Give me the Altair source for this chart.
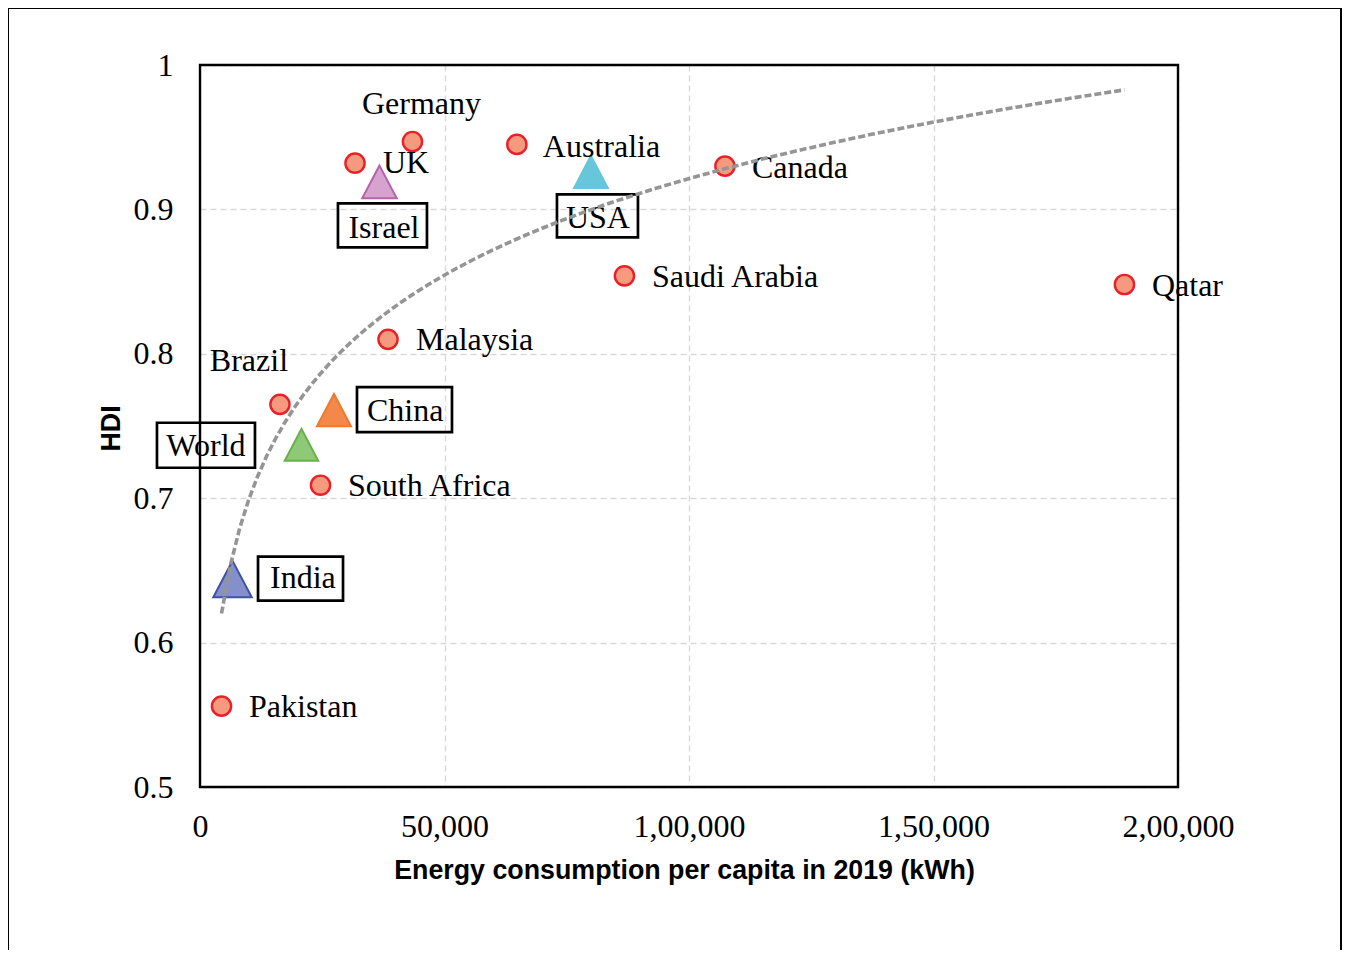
import altair as alt
import pandas as pd

# ---- data ----
countries = ["Pakistan", "India", "World", "Brazil", "South Africa", "China", "Malaysia",
             "UK", "Israel", "Germany", "Australia", "USA", "Saudi Arabia", "Canada", "Qatar"]
energy = [4400, 6650, 20750, 16350, 24650, 27400, 38450,
          31700, 36700, 43450, 64800, 79950, 86800, 107350, 189050]
hdi = [0.556, 0.644, 0.737, 0.765, 0.709, 0.761, 0.810,
       0.932, 0.919, 0.947, 0.945, 0.926, 0.854, 0.930, 0.848]
triangle_countries = ["India", "World", "China", "Israel", "USA"]

x_tick_values = [0, 50000, 100000, 150000, 200000]
x_tick_labels = ["0", "50,000", "1,00,000", "1,50,000", "2,00,000"]
y_tick_values = [0.5, 0.6, 0.7, 0.8, 0.9, 1.0]
y_tick_labels = ["0.5", "0.6", "0.7", "0.8", "0.9", "1"]

df = pd.DataFrame({"country": countries, "energy": energy, "hdi": hdi})

# ---- styles ----
SERIF = "Liberation Serif"
SANS = "Liberation Sans"
LABEL_SIZE = 32
TRI = "M0,-0.95L-1,0.95L1,0.95Z"

tri_style = {  # fill, stroke, size
    "India": ("#8590CB", "#3F52A8", 1480),
    "World": ("#8DC977", "#6AB04A", 1120),
    "China": ("#F4884A", "#EE7A30", 1160),
    "Israel": ("#D6A2CF", "#B664A8", 1190),
    "USA": ("#67C7DA", "#67C7DA", 1140),
}

label_pos = {  # align, dx, dy
    "Germany": ("center", 9, -38),
    "UK": ("left", 28, 0),
    "Israel": ("center", 4.5, 46),
    "Australia": ("left", 26, 3),
    "USA": ("center", 7, 46),
    "Canada": ("left", 27, 2),
    "Saudi Arabia": ("left", 27.5, 1),
    "Qatar": ("left", 27.5, 2),
    "Malaysia": ("left", 28, 1),
    "Brazil": ("center", -31, -43),
    "China": ("left", 33, 1),
    "World": ("center", -95.5, 1),
    "South Africa": ("left", 27.5, 1),
    "India": ("left", 37.5, -1),
    "Pakistan": ("left", 27.5, 1),
}

box_pos = {  # x offset, x2 offset, y offset, y2 offset
    "Israel": (-41.5, 47.5, 21.5, 65.5),
    "USA": (-34, 47, 22.5, 65.5),
    "China": (23, 118, -23, 22),
    "World": (-144.5, -46.5, -22, 23),
    "India": (25.5, 110.5, -22.5, 21.5),
}

PW, PH = 978, 722          # plot area
PAD_L, PAD_T = 192, 57
TOTAL_W, TOTAL_H = 1335, 942

x_lbl_expr = "[" + ",".join("'%s'" % s for s in x_tick_labels) + "][round(datum.value/50000)]"
y_lbl_expr = "[" + ",".join("'%s'" % s for s in y_tick_labels) + "][round((datum.value-0.5)*10)]"

X = alt.X("energy:Q",
          scale=alt.Scale(domain=[0, 200000], nice=False, zero=False),
          axis=alt.Axis(values=x_tick_values, labelExpr=x_lbl_expr, labelPadding=39,
                        labelBaseline="middle", labelFlush=False,
                        title="Energy consumption per capita in 2019 (kWh)",
                        titleX=484, titleY=83, titleBaseline="middle", titleAnchor="middle"))
Y = alt.Y("hdi:Q",
          scale=alt.Scale(domain=[0.5, 1.0], nice=False, zero=False),
          axis=alt.Axis(values=y_tick_values, labelExpr=y_lbl_expr, labelPadding=27,
                        labelFlush=False,
                        title="HDI", titleX=-88.5, titleY=363, titleAngle=-90,
                        titleBaseline="middle", titleAnchor="middle"))

base = alt.Chart(df)
frame_df = pd.DataFrame({"k": [0]})
fb = alt.Chart(frame_df)

layers = []

# plot-area frame drawn above the grid
layers.append(fb.mark_rect(fillOpacity=0, stroke="black", strokeWidth=2.4).encode(
    x=alt.value(0), x2=alt.value(PW), y=alt.value(0), y2=alt.value(PH)))

# circles
circles = base.transform_filter(
    "indexof(%s, datum.country) < 0" % str(triangle_countries)
).mark_circle(size=370, color="#F59A7E", stroke="#EA2028", strokeWidth=2.4, opacity=1).encode(x=X, y=Y)
layers.append(circles)

# triangles
for c in triangle_countries:
    f, s, sz = tri_style[c]
    layers.append(
        base.transform_filter(alt.datum.country == c)
        .mark_point(shape=TRI, filled=True, fill=f, stroke=s, strokeWidth=2,
                    size=sz, opacity=1)
        .encode(x=X, y=Y)
    )

# boxes around some labels
for c, (x1, x2, y1, y2) in box_pos.items():
    layers.append(
        base.transform_filter(alt.datum.country == c)
        .mark_rect(fillOpacity=0, stroke="black", strokeWidth=2.7,
                   xOffset=x1, x2Offset=x2, yOffset=y1, y2Offset=y2)
        .encode(x=X, x2="energy:Q", y=Y, y2="hdi:Q")
    )

# labels
for c, (al, dx, dy) in label_pos.items():
    layers.append(
        base.transform_filter(alt.datum.country == c)
        .mark_text(align=al, baseline="middle", dx=dx, dy=dy, font=SERIF,
                   fontSize=LABEL_SIZE, color="black")
        .encode(x=X, y=Y, text="country:N")
    )

# logarithmic trend line
trend = base.transform_regression("energy", "hdi", method="log").mark_line(
    color="#959595", strokeWidth=3.6, strokeDash=[7, 3]).encode(x=X, y=Y)
layers.append(trend)

# outer chart-area frame (left, top, right)
bottom = TOTAL_H - PAD_T + 5
right = TOTAL_W - PAD_L - 2
layers.append(fb.mark_rule(color="black", strokeWidth=2).encode(
    x=alt.value(-PAD_L), y=alt.value(-PAD_T), y2=alt.value(bottom)))
layers.append(fb.mark_rule(color="black", strokeWidth=2).encode(
    x=alt.value(-PAD_L - 1), x2=alt.value(right + 1), y=alt.value(-PAD_T)))
layers.append(fb.mark_rule(color="black", strokeWidth=2).encode(
    x=alt.value(right), y=alt.value(-PAD_T), y2=alt.value(bottom)))

chart = alt.layer(*layers).properties(
    width=PW, height=PH,
    padding={"left": PAD_L, "top": PAD_T, "right": TOTAL_W - PAD_L - PW,
             "bottom": TOTAL_H - PAD_T - PH},
    autosize=alt.AutoSizeParams(type="none"),
    background="white",
).configure_view(
    stroke=None
).configure_axis(
    grid=True, gridColor="#d9d9d9", gridDash=[6, 4], gridWidth=1.4,
    domain=False, ticks=False,
    labelFont=SERIF, labelFontSize=LABEL_SIZE, labelColor="black",
    titleFont=SANS, titleFontWeight="bold", titleFontSize=26.8, titleColor="black",
)

chart.save("out.html", embed_options={"renderer": "svg", "actions": False})
